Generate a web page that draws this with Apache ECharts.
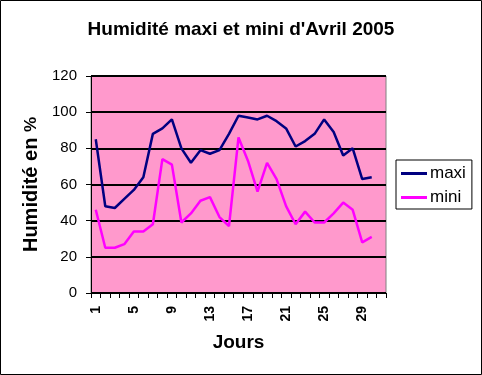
<!DOCTYPE html>
<html><head><meta charset="utf-8">
<script src="https://cdn.jsdelivr.net/npm/echarts@6/dist/echarts.min.js"></script>
<style>html,body{margin:0;padding:0;background:#fff}#c{width:482px;height:375px}</style>
</head><body><div id="c"></div>
<script>
const days = ['1','2','3','4','5','6','7','8','9','10','11','12','13','14','15','16','17','18','19','20','21','22','23','24','25','26','27','28','29','30',''];
const maxi = [85,48,47,52,57,64,88,91,96,80,72,79,77,79,88,98,97,96,98,95,91,81,84,88,96,89,76,80,63,64];
const mini = [46,25,25,27,34,34,38,74,71,39,44,51,53,42,37,86,73,56,72,63,48,38,45,39,39,44,50,46,28,31];
const yTicks = [0,20,40,60,80,100,120];
const ch = echarts.init(document.getElementById('c'));
const F = 'Liberation Sans, Arial, sans-serif';
ch.setOption({
  animation:false,
  backgroundColor:'#fff',
  graphic:[{type:'rect',shape:{x:0.5,y:0.5,width:481,height:374},style:{fill:'none',stroke:'#000',lineWidth:1},silent:true,z:100}],
  title:{text:'Humidité maxi et mini d\'Avril 2005',left:'center',top:15,
    textStyle:{fontFamily:F,fontWeight:'bold',fontSize:19,color:'#000'}},
  legend:{orient:'vertical',left:396,top:160,itemWidth:26,itemHeight:3,itemGap:7,
    padding:[5,6,3,5],borderColor:'#000',borderWidth:1,backgroundColor:'#fff',
    icon:'rect',textStyle:{fontFamily:F,fontSize:17,color:'#000',padding:[0,0,0,-2]},
    data:['maxi','mini']},
  grid:{left:91,right:96,top:76,bottom:82,show:true,backgroundColor:'#FF99CC',borderColor:'#808080',borderWidth:1},
  xAxis:{type:'category',data:days,boundaryGap:true,
    name:'Jours',nameLocation:'middle',nameGap:40,
    nameTextStyle:{fontFamily:F,fontWeight:'bold',fontSize:19,color:'#000'},
    axisLine:{lineStyle:{color:'#000',width:1}},
    axisTick:{show:true,interval:0,length:5,inside:false,lineStyle:{color:'#000'}},
    axisLabel:{interval:3,rotate:90,margin:13,fontFamily:F,fontWeight:'bold',fontSize:14,color:'#000'},
    splitLine:{show:false}},
  yAxis:{type:'value',min:0,max:120,interval:20,
    name:'{a|Humidité en }{b|%}',nameLocation:'middle',nameGap:44,
    nameTextStyle:{fontFamily:F,fontWeight:'bold',fontSize:20,color:'#000',
      rich:{a:{fontFamily:F,fontWeight:'bold',fontSize:20,color:'#000'},b:{fontFamily:F,fontSize:17,color:'#000'}}},
    axisLine:{show:true,lineStyle:{color:'#000',width:1}},
    axisTick:{show:true,length:5,lineStyle:{color:'#000'}},
    axisLabel:{margin:14,fontFamily:F,fontSize:15,color:'#000',formatter:v=>yTicks.includes(v)?String(v):''},
    splitLine:{show:true,lineStyle:{color:'#000',width:2}}},
  series:[
    {name:'maxi',type:'line',data:maxi,symbol:'none',lineStyle:{color:'#000080',width:2.5},itemStyle:{color:'#000080'}},
    {name:'mini',type:'line',data:mini,symbol:'none',lineStyle:{color:'#FF00FF',width:2.5},itemStyle:{color:'#FF00FF'}}
  ]
});
</script></body></html>
